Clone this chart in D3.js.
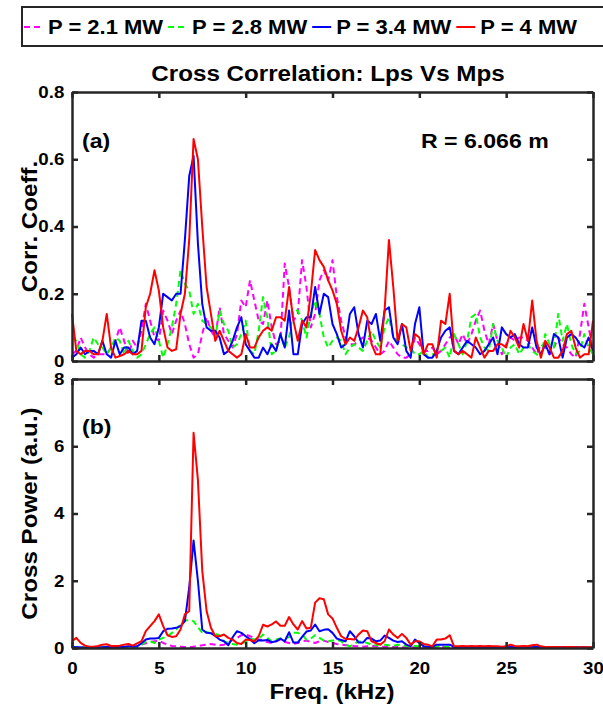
<!DOCTYPE html>
<html>
<head>
<meta charset="utf-8">
<script src="https://cdn.jsdelivr.net/npm/d3@7"></script>
<style>
  body { margin: 0; background: #fff; }
  text { font-family: "Liberation Sans", Arial, sans-serif; font-weight: bold; fill: #000; }
</style>
</head>
<body>
<div id="chart"></div>
<script>
// frequency grid step (kHz)
var freqStep = 0.25;

var seriesNames = ["P = 2.1 MW", "P = 2.8 MW", "P = 3.4 MW", "P = 4 MW"];

var xTicks = [0, 5, 10, 15, 20, 25, 30];
var corrTicks = [0, 0.2, 0.4, 0.6, 0.8];
var powerTicks = [0, 2, 4, 6, 8];

// (a) correlation coefficient
var corr21 = [0.02,0.03,0.07,0.04,0.02,0.01,0.02,0.02,0.02,0.04,
  0.06,0.1,0.06,0.02,0.06,0.04,0.09,0.17,0.12,0.07,
  0.06,0.15,0.12,0.08,0.12,0.15,0.11,0.05,0.01,0.02,
  0.08,0.13,0.09,0.07,0.16,0.08,0.06,0.04,0.08,0.18,
  0.16,
  0.24,0.18,0.12,0.11,0.18,0.1,0.05,0.06,0.29,0.22,
  0.12,0.14,0.3,0.22,0.1,0.14,0.24,0.27,0.24,0.3,
  0.19,0.12,0.07,0.05,0.05,0.06,0.07,0.07,0.06,0.04,
  0.02,0.03,0.06,0.04,0.02,0.01,0.01,0.02,0.07,0.05,
  0.03,0.03,0.04,0.02,0.03,0.05,0.07,0.08,0.05,0.08,
  0.05,0.08,0.12,0.15,0.09,0.05,0.11,0.06,0.02,0.05,
  0.07,0.06,0.07,0.07,0.06,0.04,0.02,0.05,0.04,0.02,
  0.04,0.07,0.05,0.04,0.02,0.01,0.08,0.17,0.1,0.03];

var corr28 = [0.07,0.06,0.02,0.01,0.03,0.07,0.05,0.04,0.02,0.04,
  0.07,0.06,0.02,0.06,0.03,0.01,0.02,0.05,0.08,0.1,
  0.06,0.01,0.05,0.1,0.17,0.27,0.23,0.21,0.14,0.17,
  0.12,0.11,0.1,0.07,0.15,0.11,0.09,0.04,0.05,0.08,
  0.12,
  0.03,0.02,0.09,0.19,0.13,0.02,0.03,0.08,0.04,0.07,
  0.15,0.15,0.12,0.07,0.14,0.18,0.14,0.07,0.04,0.06,
  0.07,0.06,0.02,0.04,0.05,0.04,0.03,0.06,0.09,0.06,
  0.04,0.1,0.13,0.07,0.06,0.05,0.04,0.04,0.02,0.02,
  0.03,0.01,0.02,0.02,0.03,0.04,0.01,0.08,0.05,0.02,
  0.06,0.13,0.14,0.07,0.04,0.03,0.11,0.06,0.04,0.01,
  0.04,0.05,0.02,0.04,0.05,0.03,0.02,0.01,0.08,0.05,
  0.04,0.14,0.06,0.11,0.05,0.02,0.03,0.08,0.04,0.02];

var corr34 = [0.01,0.02,0.04,0.02,0.03,0.03,0.02,0.06,0.02,0.01,
  0.06,0.02,0.04,0.04,0.02,0.03,0.12,0.12,0.07,0.05,
  0.1,0.2,0.19,0.18,0.2,0.2,0.36,0.55,0.61,0.35,
  0.17,0.1,0.09,0.09,0.07,0.02,0.03,0.06,0.1,0.13,
  0.05,
  0.03,0.01,0.01,0.04,0.02,0.05,0.03,0.08,0.04,0.15,
  0.02,0.02,0.11,0.13,0.13,0.22,0.14,0.2,0.19,0.11,
  0.08,0.04,0.05,0.14,0.16,0.08,0.04,0.12,0.11,0.14,
  0.06,0.15,0.16,0.07,0.05,0.11,0.03,0.01,0.11,0.16,
  0.02,0.01,0.01,0.03,0.07,0.09,0.1,0.03,0.02,0.04,
  0.06,0.05,0.04,0.02,0.03,0.05,0.07,0.02,0.1,0.08,
  0.07,0.08,0.05,0.04,0.04,0.1,0.04,0.02,0.05,0.02,
  0.08,0.07,0.01,0.07,0.08,0.07,0.05,0.04,0.07,0.03];

var corr40 = [0.14,0.03,0.02,0.03,0.03,0.02,0.02,0.06,0.14,0.04,
  0.01,0.015,0.02,0.03,0.02,0.02,0.03,0.16,0.2,0.27,
  0.21,0.1,0.04,0.03,0.035,0.14,0.2,0.36,0.66,0.6,
  0.4,0.22,0.14,0.06,0.09,0.06,0.03,0.02,0.01,0.02,
  0.08,
  0.04,0.04,0.07,0.09,0.1,0.09,0.13,0.13,0.12,0.22,
  0.12,0.06,0.12,0.1,0.2,0.33,0.3,0.28,0.24,0.21,
  0.17,0.09,0.05,0.07,0.06,0.1,0.15,0.13,0.05,0.02,
  0.02,0.15,0.36,0.22,0.06,0.11,0.1,0.03,0.08,0.07,
  0.02,0.05,0.05,0.01,0.12,0.11,0.2,0.03,0.02,0.03,
  0.02,0.01,0.07,0.04,0.01,0.03,0.03,0.05,0.05,0.04,
  0.09,0.07,0.04,0.11,0.06,0.18,0.06,0.01,0.06,0.04,
  0.01,0.01,0.03,0.08,0.09,0.04,0.01,0.02,0.02,0.12];

// (b) cross power
var power21 = [0.02,0.02,0.02,0.01,0.02,0.02,0.02,0.01,0.02,0.02,
  0.02,0.02,0.02,0.02,0.03,0.05,0.1,0.14,0.18,0.2,
  0.22,0.15,0.1,0.06,0.05,0.04,0.03,0.02,0.04,0.06,
  0.08,0.1,0.12,0.1,0.08,0.1,0.15,0.25,0.3,0.38,
  0.4,
  0.35,0.3,0.25,0.22,0.18,0.15,0.2,0.25,0.18,0.15,
  0.12,0.15,0.2,0.22,0.18,0.15,0.2,0.22,0.18,0.15,
  0.12,0.1,0.08,0.08,0.06,0.05,0.04,0.05,0.06,0.05,
  0.04,0.04,0.03,0.03,0.03,0.02,0.02,0.02,0.02,0.02,
  0.02,0.03,0.02,0.02,0.03,0.02,0.02,0.02,0.03,0.02,
  0.02,0.02,0.03,0.02,0.02,0.02,0.02,0.03,0.02,0.02,
  0.02,0.02,0.02,0.03,0.02,0.02,0.02,0.02,0.02,0.03,
  0.02,0.02,0.02,0.02,0.02,0.02,0.03,0.02,0.02,0.02];

var power28 = [0.02,0.02,0.01,0.02,0.02,0.01,0.02,0.03,0.02,0.02,
  0.03,0.02,0.02,0.03,0.02,0.03,0.1,0.18,0.2,0.15,
  0.25,0.3,0.35,0.45,0.55,0.7,0.82,0.83,0.8,0.62,
  0.45,0.48,0.44,0.42,0.38,0.2,0.15,0.12,0.1,0.14,
  0.18,
  0.28,0.25,0.27,0.4,0.3,0.2,0.25,0.28,0.3,0.32,
  0.45,0.45,0.4,0.25,0.28,0.38,0.3,0.22,0.2,0.22,
  0.25,0.2,0.1,0.05,0.12,0.2,0.18,0.15,0.1,0.08,
  0.12,0.1,0.08,0.06,0.1,0.08,0.06,0.05,0.06,0.05,
  0.04,0.03,0.03,0.05,0.04,0.03,0.03,0.02,0.03,0.02,
  0.03,0.02,0.02,0.03,0.02,0.02,0.03,0.02,0.02,0.02,
  0.03,0.02,0.02,0.02,0.03,0.02,0.02,0.02,0.02,0.02,
  0.02,0.02,0.02,0.02,0.02,0.02,0.02,0.02,0.02,0.02];

var power34 = [0.03,0.02,0.02,0.01,0.02,0.01,0.02,0.02,0.03,0.02,
  0.03,0.04,0.03,0.05,0.04,0.05,0.14,0.25,0.28,0.28,
  0.3,0.5,0.57,0.58,0.6,0.65,0.8,1.8,3.2,2.0,
  0.55,0.45,0.44,0.36,0.25,0.2,0.08,0.32,0.5,0.45,
  0.35,
  0.26,0.14,0.23,0.22,0.24,0.17,0.2,0.28,0.2,0.47,
  0.16,0.16,0.33,0.49,0.52,0.7,0.5,0.54,0.56,0.45,
  0.28,0.24,0.2,0.5,0.35,0.16,0.16,0.3,0.28,0.2,
  0.22,0.37,0.3,0.22,0.18,0.2,0.1,0.05,0.25,0.15,
  0.05,0.03,0.03,0.1,0.1,0.1,0.1,0.03,0.03,0.02,
  0.03,0.02,0.03,0.02,0.03,0.02,0.02,0.03,0.02,0.02,
  0.03,0.02,0.02,0.03,0.02,0.02,0.03,0.02,0.02,0.02,
  0.02,0.02,0.02,0.02,0.01,0.02,0.02,0.02,0.01,0.02];

var power40 = [0.2,0.3,0.15,0.07,0.04,0.04,0.06,0.1,0.11,0.06,
  0.06,0.07,0.1,0.12,0.07,0.14,0.2,0.5,0.65,0.8,
  1.0,0.65,0.38,0.33,0.35,0.55,1.0,1.1,6.4,5.0,
  2.3,1.1,0.6,0.35,0.35,0.4,0.3,0.25,0.15,0.12,
  0.25,
  0.24,0.2,0.35,0.69,0.64,0.7,0.79,0.66,0.66,0.92,
  0.7,0.55,0.8,0.58,0.6,1.35,1.48,1.45,1.0,0.88,
  0.6,0.35,0.27,0.27,0.25,0.4,0.52,0.5,0.2,0.15,
  0.1,0.2,0.55,0.4,0.3,0.42,0.3,0.1,0.2,0.2,
  0.12,0.1,0.05,0.25,0.25,0.28,0.38,0.05,0.05,0.06,
  0.05,0.06,0.05,0.06,0.05,0.06,0.05,0.05,0.04,0.05,
  0.1,0.06,0.05,0.06,0.05,0.08,0.1,0.05,0.03,0.03,
  0.03,0.03,0.02,0.03,0.03,0.02,0.02,0.02,0.02,0.03];

var colors = ["#ff00ff", "#00ff00", "#0000ff", "#ff0000"];
var dashes = ["6,4", "6,4", null, null];

var W = 603, H = 710;
var left = 72, right = 593;
var topA = 92, topB = 379, ph = 269;
var axisColor = "#262626";
var sx = 1.1; // glyphs in the source are a bit wider than Arial

var svg = d3.select("#chart").append("svg")
  .attr("width", W).attr("height", H)
  .style("background", "#fff");

function label(g, x, y, str, size, anchor, rot) {
  return g.append("text")
    .attr("transform", "translate(" + x + "," + y + ")" + (rot ? " rotate(" + rot + ")" : "") + " scale(" + sx + ",1)")
    .attr("text-anchor", anchor || "start")
    .style("font-size", size + "px")
    .text(str);
}

var x = d3.scaleLinear().domain([0, 30]).range([left, right]);

function drawPanel(top, yMax, yTicks, series, showX) {
  var y = d3.scaleLinear().domain([0, yMax]).range([top + ph, top]);
  var g = svg.append("g");

  var line = d3.line()
    .x(function(d, i) { return x(i * freqStep); })
    .y(function(d) { return y(d); });

  g.selectAll("path.series")
    .data(series)
    .enter()
    .append("path")
      .attr("class", "series")
      .attr("d", line)
      .attr("fill", "none")
      .attr("stroke", function(d, i) { return colors[i]; })
      .attr("stroke-width", 2)
      .attr("stroke-dasharray", function(d, i) { return dashes[i]; })
      .attr("stroke-linejoin", "round");

  var axes = [
    g.append("g").attr("transform", "translate(0," + (top + ph) + ")")
      .call(d3.axisBottom(x).tickValues(xTicks).tickSize(-6).tickSizeOuter(0).tickPadding(14)
        .tickFormat(showX ? function(d) { return d; } : "")),
    g.append("g").attr("transform", "translate(0," + top + ")")
      .call(d3.axisTop(x).tickValues(xTicks).tickSize(-6).tickSizeOuter(0).tickFormat("")),
    g.append("g").attr("transform", "translate(" + left + ",0)")
      .call(d3.axisLeft(y).tickValues(yTicks).tickSize(-6).tickSizeOuter(0).tickPadding(7)
        .tickFormat(function(d) { return d; })),
    g.append("g").attr("transform", "translate(" + right + ",0)")
      .call(d3.axisRight(y).tickValues(yTicks).tickSize(-6).tickSizeOuter(0).tickFormat(""))
  ];
  axes.forEach(function(a) {
    a.select(".domain").attr("stroke", axisColor).attr("stroke-width", 2.5);
    a.selectAll(".tick line").attr("stroke", axisColor).attr("stroke-width", 2.5);
    a.selectAll(".tick text")
      .attr("fill", "#000")
      .style("font-family", "'Liberation Sans', Arial, sans-serif")
      .style("font-weight", "bold")
      .style("font-size", "17px")
      .attr("transform", "scale(" + sx + ",1)");
  });
  return g;
}

var gA = drawPanel(topA, 0.8, corrTicks, [corr21, corr28, corr34, corr40], false);
var gB = drawPanel(topB, 8, powerTicks, [power21, power28, power34, power40], true);

// panel texts
label(svg, 328, 81, "Cross Correlation: Lps Vs Mps", 22, "middle");
label(svg, 82, 148, "(a)", 21);
label(svg, 421, 148, "R = 6.066 m", 21);
label(svg, 82, 434, "(b)", 21);
label(svg, 37, topA + ph / 2, "Corr. Coeff.", 22, "middle", -90);
label(svg, 37, topB + ph / 2, "Cross Power (a.u.)", 22, "middle", -90);
label(svg, 332, 699, "Freq. (kHz)", 22, "middle");

// legend
var leg = svg.append("g");
leg.append("rect")
  .attr("x", 22).attr("y", 7).attr("width", 620).attr("height", 39)
  .attr("fill", "#fff").attr("stroke", axisColor).attr("stroke-width", 2);
var lx = 24;
seriesNames.forEach(function(name, i) {
  leg.append("line")
    .attr("x1", lx).attr("x2", lx + 19).attr("y1", 27).attr("y2", 27)
    .attr("stroke", colors[i]).attr("stroke-width", 2)
    .attr("stroke-dasharray", dashes[i]);
  var t = label(leg, lx + 24, 34, name, 20);
  lx += 24 + t.node().getComputedTextLength() * sx + 5;
});
</script>
</body>
</html>
